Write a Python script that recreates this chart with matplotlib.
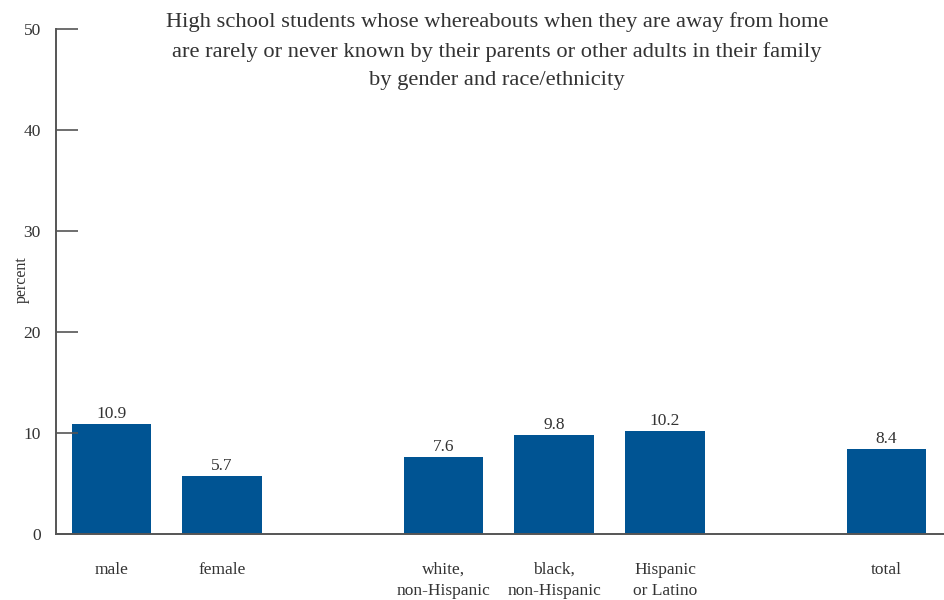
import matplotlib
matplotlib.use("Agg")
import matplotlib.pyplot as plt

categories = ["male", "female", "white,\nnon-Hispanic", "black,\nnon-Hispanic", "Hispanic\nor Latino", "total"]
positions = [0, 1, 3, 4, 5, 7]
values = [10.9, 5.7, 7.6, 9.8, 10.2, 8.4]
yticks = [0, 10, 20, 30, 40, 50]
title = ("High school students whose whereabouts when they are away from home\n"
         "are rarely or never known by their parents or other adults in their family\n"
         "by gender and race/ethnicity")

plt.rcParams['font.family'] = ['Liberation Serif', 'DejaVu Serif']
txt = "#333333"
fig = plt.figure(figsize=(9.44, 6), dpi=100)
ax = fig.add_axes([56/944, 66/600, 1 - 56/944, 505/600])

ax.bar(positions, values, width=0.72, color="#005493")
for p, v in zip(positions, values):
    ax.text(p, v + 0.2, f"{v}", ha="center", va="bottom", fontsize=12.5, color=txt)

ax.set_xlim(-0.5, 7.52)
ax.set_ylim(0, 50)
ax.set_yticks(yticks)
ax.set_yticklabels([str(t) for t in yticks], fontsize=12.5, color=txt)
ax.tick_params(axis="y", direction="in", length=16, width=1.2, color="#555555", pad=11)
ax.set_xticks(positions)
ax.set_xticklabels(categories, fontsize=12.5, color=txt, linespacing=1.42)
ax.tick_params(axis="x", length=0, pad=20)
for s in ["top", "right"]:
    ax.spines[s].set_visible(False)
for s in ["left", "bottom"]:
    ax.spines[s].set_color("#555555")
    ax.spines[s].set_linewidth(1.4)

fig.text(22/944, 1 - 280/600, "percent", rotation=90, ha="center", va="center", fontsize=11.5, color=txt)
fig.text(497/944, 1 - 12/600, title, ha="center", va="top", fontsize=16.2, color=txt, linespacing=1.68)
fig.savefig("out.png", dpi=100)
